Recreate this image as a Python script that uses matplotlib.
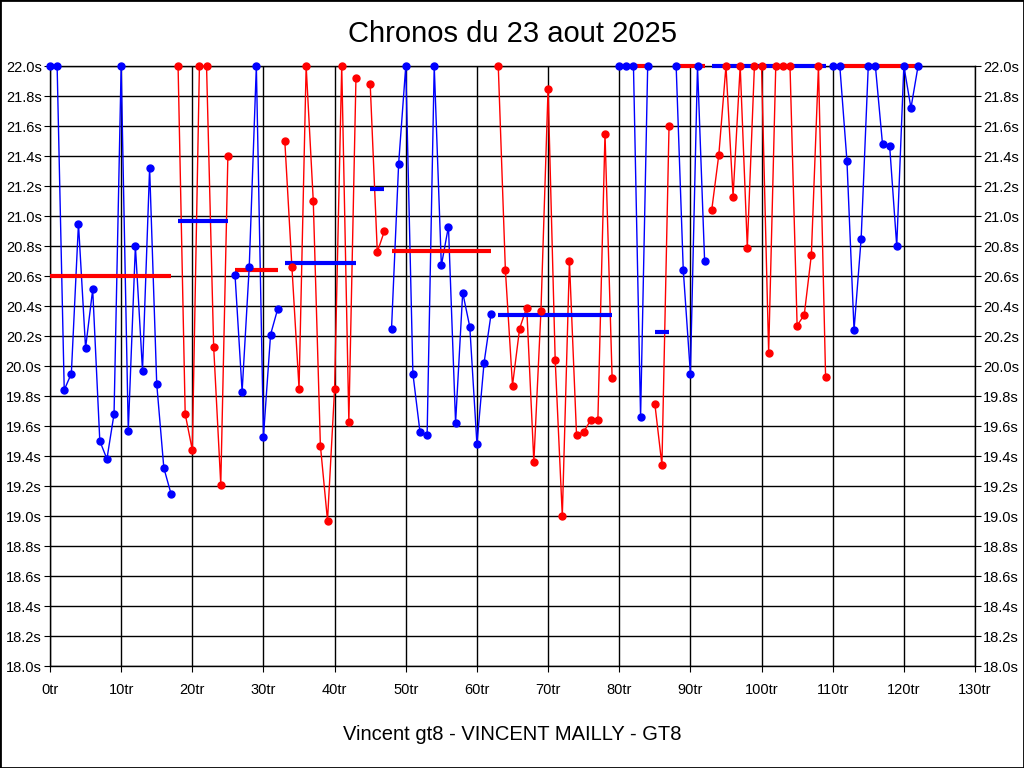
import matplotlib
matplotlib.use('Agg')
import matplotlib.pyplot as plt
import numpy as np
from matplotlib.patches import Rectangle

plt.rcParams['font.family'] = ['Liberation Sans', 'DejaVu Sans']

# lap times (s), values above 22.0 are shown clamped at the top of the chart
lap_times = [
    22.0, 22.0, 19.84, 19.95, 20.95, 20.12, 20.51, 19.50, 19.38, 19.68,
    22.0, 19.57, 20.80, 19.97, 21.32, 19.88, 19.32, 19.15, 22.0, 19.68,
    19.44, 22.0, 22.0, 20.13, 19.21, 21.40, 20.61, 19.83, 20.66, 22.0,
    19.53, 20.21, 20.38, 21.50, 20.66, 19.85, 22.0, 21.10, 19.47, 18.97,
    19.85, 22.0, 19.63, 21.92, None, 21.88, 20.76, 20.90, 20.25, 21.35,
    22.0, 19.95, 19.56, 19.54, 22.0, 20.67, 20.93, 19.62, 20.49, 20.26,
    19.48, 20.02, 20.35, 22.0, 20.64, 19.87, 20.25, 20.39, 19.36, 20.37,
    21.85, 20.04, 19.00, 20.70, 19.54, 19.56, 19.64, 19.64, 21.55, 19.92,
    22.0, 22.0, 22.0, 19.66, 22.0, 19.75, 19.34, 21.60, 22.0, 20.64,
    19.95, 22.0, 20.70, 21.04, 21.41, 22.0, 21.13, 22.0, 20.79, 22.0,
    22.0, 20.09, 22.0, 22.0, 22.0, 20.27, 20.34, 20.74, 22.0, 19.93,
    22.0, 22.0, 21.37, 20.24, 20.85, 22.0, 22.0, 21.48, 21.47, 20.80,
    22.0, 21.72, 22.0,
]

# stints: first lap, last lap, colour, average time
stint_start = [0, 18, 26, 33, 45, 48, 63, 80, 85, 88, 93, 110, 111]
stint_end = [17, 25, 32, 43, 47, 62, 79, 84, 87, 92, 109, 110, 122]
stint_color = ['blue', 'red', 'blue', 'red', 'red', 'blue', 'red',
               'blue', 'red', 'blue', 'red', 'blue', 'blue']
stint_avg = [20.60, 20.97, 20.64, 20.69, 21.18, 20.77, 20.34,
             22.0, 20.23, 22.0, 22.0, None, 22.0]

fig = plt.figure(figsize=(10.24, 7.68), dpi=100)
ax = fig.add_axes([50 / 1024, 1 - 666 / 768, 925 / 1024, 600 / 768])

other = {'blue': 'red', 'red': 'blue'}
for s, e, c, a in zip(stint_start, stint_end, stint_color, stint_avg):
    laps = np.arange(s, e + 1)
    t = np.array([lap_times[i] for i in laps], dtype=float)
    ax.plot(laps, t, color=c, lw=1, zorder=3, clip_on=False)
    ax.plot(laps, t, 'o', color=c, ms=5, zorder=5, clip_on=False)
    if a is not None:
        # stint average, drawn in the other colour
        ax.plot([s, e], [a, a], color=other[c], lw=3, zorder=4,
                solid_capstyle='butt', clip_on=False)

ax.set_xlim(0, 130)
ax.set_ylim(18.0, 22.0)
xt = np.arange(0, 131, 10)
ax.set_xticks(xt)
ax.set_xticklabels([f'{v}tr' for v in xt])
yt = np.round(np.arange(18.0, 22.01, 0.2), 1)
ax.set_yticks(yt)
ax.set_yticklabels([f'{v:.1f}s' for v in yt])
ax.tick_params(axis='both', labelsize=10.5, length=4, color='black')
ax.tick_params(axis='y', right=True, labelright=True, pad=2)
ax.tick_params(axis='x', pad=8)
ax.grid(True, color='black', lw=1)
ax.set_axisbelow(True)
for sp in ax.spines.values():
    sp.set_color('black')
    sp.set_linewidth(1)

fig.text(0.5, 1 - 34 / 768, 'Chronos du 23 aout 2025', ha='center',
         va='center', fontsize=21)
fig.text(0.5, 1 - 735 / 768, 'Vincent gt8 - VINCENT MAILLY - GT8',
         ha='center', va='center', fontsize=14.5)

fig.add_artist(Rectangle((0, 0), 1, 1, transform=fig.transFigure,
                         fill=False, edgecolor='black', lw=2))

fig.savefig('out.png', dpi=100)
